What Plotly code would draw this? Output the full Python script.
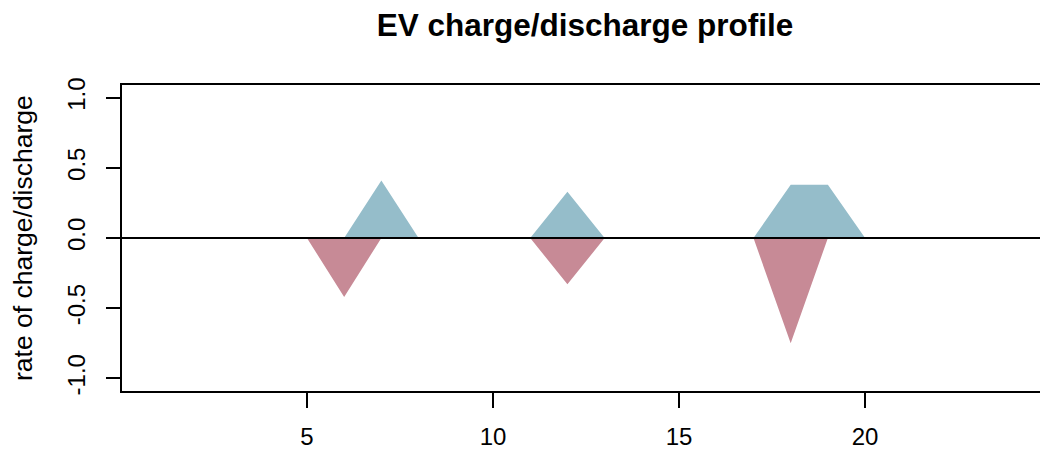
import plotly.graph_objects as go

hours = list(range(1, 25))
charge = [0, 0, 0, 0, 0, 0, 0.41, 0, 0, 0, 0, 0.33, 0, 0, 0, 0, 0, 0.38, 0.38, 0, 0, 0, 0, 0]
discharge = [0, 0, 0, 0, 0, -0.42, 0, 0, 0, 0, 0, -0.33, 0, 0, 0, 0, 0, -0.75, 0, 0, 0, 0, 0, 0]
x_ticks = [5, 10, 15, 20]
y_ticks = [-1.0, -0.5, 0.0, 0.5, 1.0]
y_ticktext = ["-1.0", "-0.5", "0.0", "0.5", "1.0"]

FONT = "Liberation Sans, Arial, sans-serif"

fig = go.Figure()
fig.add_trace(go.Scatter(x=hours, y=charge, mode="lines", line=dict(width=0, color="#95BDCA"),
                         fill="tozeroy", fillcolor="#95BDCA", hoverinfo="skip", showlegend=False))
fig.add_trace(go.Scatter(x=hours, y=discharge, mode="lines", line=dict(width=0, color="#C78A96"),
                         fill="tozeroy", fillcolor="#C78A96", hoverinfo="skip", showlegend=False))

fig.add_shape(type="line", xref="paper", x0=0, x1=1, yref="y", y0=0, y1=0,
              line=dict(color="black", width=2), layer="above")

fig.add_annotation(text="rate of charge/discharge", xref="paper", yref="paper",
                   x=(23 - 122) / 918, y=0.5, textangle=-90, showarrow=False,
                   font=dict(family=FONT, size=26.5, color="black"), xanchor="center", yanchor="middle")

fig.update_layout(
    width=1040, height=450,
    margin=dict(l=122, r=0, t=85, b=59, autoexpand=False),
    paper_bgcolor="white", plot_bgcolor="white",
    font=dict(family=FONT, size=24, color="black"),
    title=dict(text="<b>EV charge/discharge profile</b>", x=(122 + 1048) / 2 / 1040, xanchor="center",
               y=1 - 25 / 450, yanchor="middle", yref="container",
               font=dict(family=FONT, size=31.5, color="black")),
    xaxis=dict(range=[0.03, 24.7], tickvals=x_ticks, ticktext=[str(v) for v in x_ticks],
               automargin=False,
               showgrid=False, zeroline=False, showline=True, linecolor="black", linewidth=1.6,
               mirror=True, ticks="outside", ticklen=15, tickwidth=1.6, tickcolor="black",
               ticklabelstandoff=8, tickfont=dict(family=FONT, size=24, color="black")),
    yaxis=dict(range=[-1.09, 1.09], tickvals=y_ticks, ticktext=y_ticktext, tickangle=-90,
               automargin=False,
               showgrid=False, zeroline=False, showline=True, linecolor="black", linewidth=1.6,
               ticks="outside", ticklen=14, tickwidth=1.6, tickcolor="black",
               ticklabelstandoff=12, tickfont=dict(family=FONT, size=24, color="black")),
)

fig.write_html("out.html", config={"displayModeBar": False},
               post_script="document.body.style.margin='0';document.body.style.overflow='hidden';")
